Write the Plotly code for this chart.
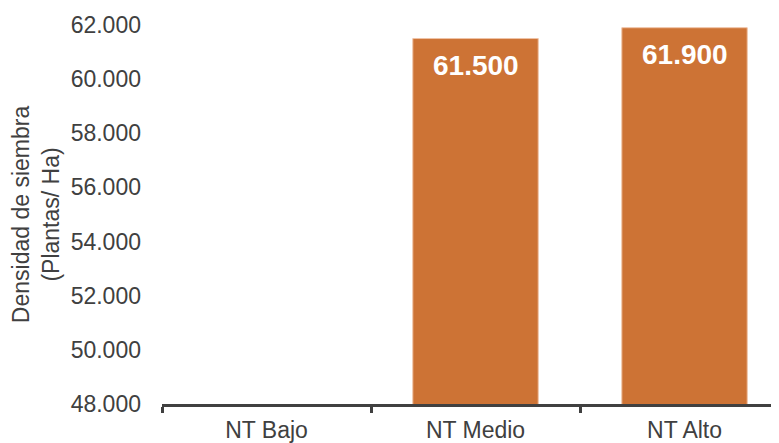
import plotly.graph_objects as go

categories = ["NT Bajo", "NT Medio", "NT Alto"]
values = [None, 61500, 61900]
labels = ["", "61.500", "61.900"]
y_ticks = [48000, 50000, 52000, 54000, 56000, 58000, 60000, 62000]
y_tick_text = ["48.000", "50.000", "52.000", "54.000", "56.000", "58.000", "60.000", "62.000"]

BAR = "#CD7335"
GRAY = "#404040"
FONT = "Liberation Sans, Arial, sans-serif"

fig = go.Figure()
fig.add_trace(go.Bar(
    x=categories, y=values, width=0.6,
    marker=dict(color=BAR, line=dict(color="#EFC3A6", width=1)),
    hoverinfo="skip",
))

for c, v, t in zip(categories, values, labels):
    if v is None:
        continue
    fig.add_annotation(x=c, y=v, text="<b>%s</b>" % t, showarrow=False,
                       yanchor="top", yshift=-9,
                       font=dict(family=FONT, size=28, color="white"))

fig.update_layout(
    width=771, height=435,
    margin=dict(l=154, r=0, t=17, b=37),
    paper_bgcolor="white", plot_bgcolor="white",
    showlegend=False,
    font=dict(family=FONT, size=23, color=GRAY),
    bargap=0.4,
)
fig.update_xaxes(
    range=[-0.5, 2.452],
    showline=True, linecolor=GRAY, linewidth=3,
    ticks="outside", tickson="boundaries", ticklen=6, tickwidth=3, tickcolor=GRAY,
    tickfont=dict(family=FONT, size=23, color=GRAY),
    ticklabelstandoff=3,
    showgrid=False, zeroline=False,
)
fig.update_yaxes(
    range=[48000, 62000],
    tickvals=y_ticks, ticktext=y_tick_text,
    tickfont=dict(family=FONT, size=23, color=GRAY),
    ticklabelstandoff=20,
    showline=False, showgrid=False, zeroline=False, ticks="",
    title=dict(text="Densidad de siembra<br>(Plantas/ Ha)",
               font=dict(family=FONT, size=23, color=GRAY), standoff=8),
)

fig.write_html("out.html")
